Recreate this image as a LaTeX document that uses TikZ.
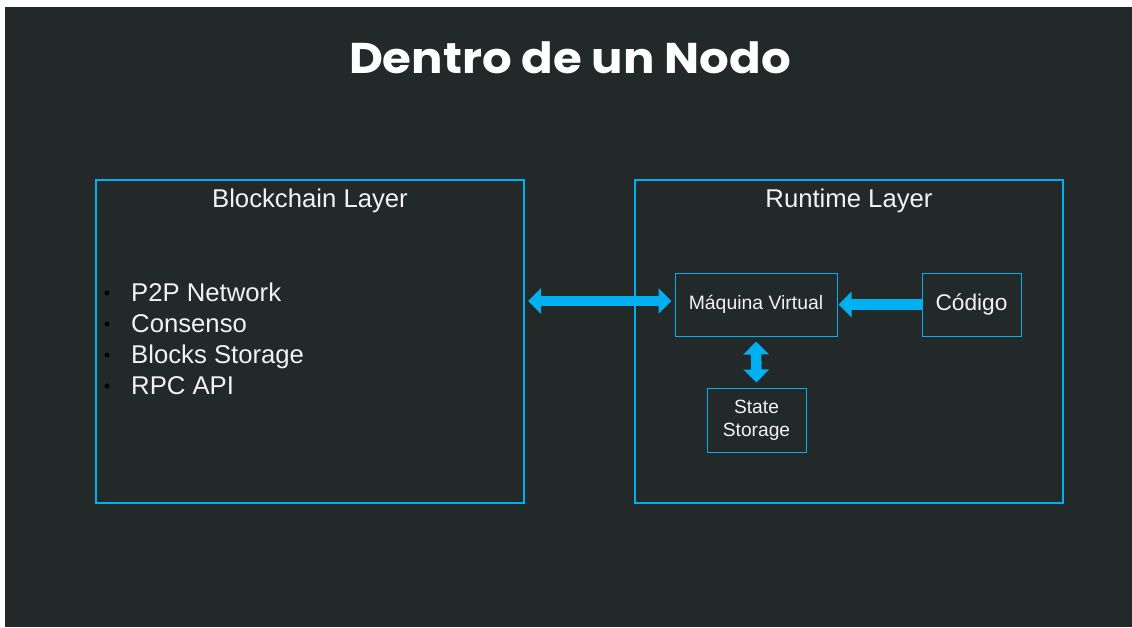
\documentclass[tikz,border=0pt]{standalone}
\usepackage{fontspec}
\setmainfont{Liberation Sans}
\newfontfamily\titlefont{Poppins}
\usetikzlibrary{arrows.meta}
\definecolor{slate}{HTML}{232829}
\definecolor{azure}{HTML}{00B0F0}
\definecolor{paper}{HTML}{F2F2F2}
\tikzset{bolt/.tip={Triangle[width=25pt,length=13pt]}}

\begin{document}
\begin{tikzpicture}[x=1pt,y=-1pt,
  layerbox/.style={draw=azure, line width=2pt, minimum width=428pt, minimum height=323pt, inner sep=0pt},
  layertitle/.style={anchor=base, text=paper, font=\fontsize{25.7}{30}\selectfont, inner sep=0pt},
  item/.style={anchor=base west, text=paper, font=\fontsize{25.7}{30}\selectfont, inner sep=0pt},
  bullet/.style={circle, fill=black, minimum size=5pt, inner sep=0pt},
  unit/.style={draw=azure, line width=1pt, inner sep=0pt, text=paper, align=center},
  flow/.style={draw=azure, line width=10.5pt}
]
% canvas
\fill[white] (0,0) rectangle (1132,627);
\fill[slate] (5,7) rectangle (1132,627);
\useasboundingbox (0,0) rectangle (1132,627);

% heading
\node[anchor=base, text=white, inner sep=0pt, xscale=1.085, transform shape,
      font=\titlefont\bfseries\fontsize{43}{50}\selectfont] (title) at (570,73) {Dentro de un Nodo};

% the two layers
\node[layerbox] (chain) at (310,341.5) {};
\node[layerbox] (runtime) at (849,341.5) {};
\node[layertitle] (chaintitle) at (310,207) {Blockchain Layer};
\node[layertitle] (runtimetitle) at (849,207) {Runtime Layer};

% blockchain layer contents
\node[bullet] (b1) at (107,293) {};
\node[bullet] (b2) at (107,324) {};
\node[bullet] (b3) at (107,355) {};
\node[bullet] (b4) at (107,386) {};
\node[item] (i1) at (131,301) {P2P Network};
\node[item] (i2) at (131,332) {Consenso};
\node[item] (i3) at (131,363) {Blocks Storage};
\node[item] (i4) at (131,394) {RPC API};

% runtime layer contents
\node[unit, minimum width=162pt, minimum height=63pt, font=\fontsize{19.4}{24}\selectfont] (vm) at (756,304.5) {Máquina Virtual};
\node[unit, minimum width=99pt, minimum height=63pt, font=\fontsize{22.7}{27}\selectfont] (code) at (971.5,304.5) {Código};
\node[unit, minimum width=99pt, minimum height=64pt, font=\fontsize{19.2}{24}\selectfont] (state) at (756.5,420)
  {\raisebox{-2pt}{\begin{tabular}{@{}c@{}}State\\[-1pt]Storage\end{tabular}}};

% connectors
\draw[flow, bolt-bolt] ([xshift=3pt,yshift=3.5pt]chain.east |- vm.west) -- ([xshift=-3pt,yshift=3.5pt]vm.west);
\draw[flow, -bolt] (code.west) -- ([xshift=1pt]vm.east);
\draw[flow, bolt-bolt] ([yshift=-5pt]vm.south) -- ([yshift=5pt]state.north);
\end{tikzpicture}
\end{document}
